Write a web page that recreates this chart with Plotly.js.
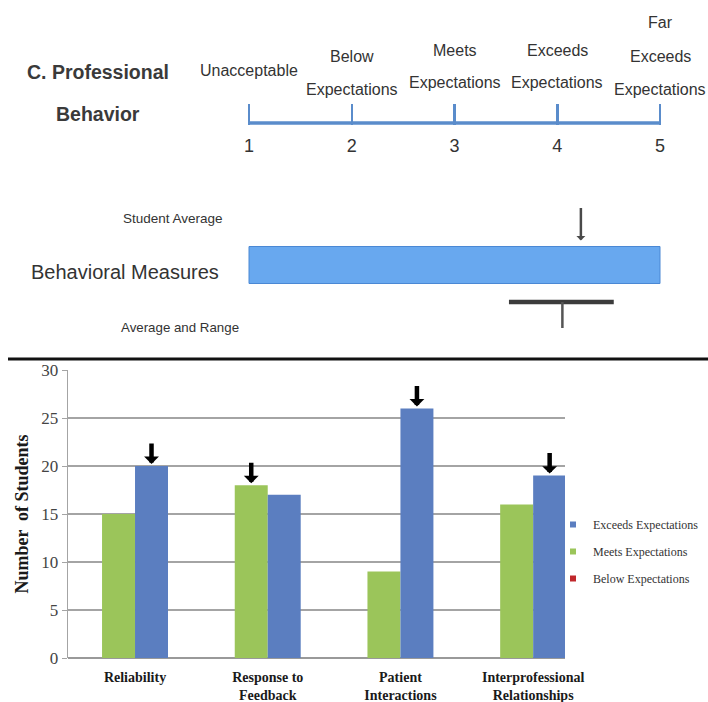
<!DOCTYPE html>
<html><head><meta charset="utf-8">
<script src="https://cdn.plot.ly/plotly-3.0.1.min.js"></script>
<style>
html,body{margin:0;padding:0;background:#fff;overflow:hidden;width:708px;height:702px}
#wrap{position:relative;width:708px;height:702px;overflow:hidden;contain:paint}
#chart{width:708px;height:702px;display:block}
</style>
</head><body><div id="wrap"><div id="chart"></div></div>
<script>
// ---- Top rubric scale ----
const scaleLevels = [1, 2, 3, 4, 5];
const scaleTickText = ["1", "2", "3", "4", "5"];
const scaleLabels = ["Unacceptable", "Below<br>Expectations", "Meets<br>Expectations", "Exceeds<br>Expectations", "Far<br>Exceeds<br>Expectations"];
const sectionTitle = "C. Professional<br>Behavior";
const measureName = "Behavioral Measures";
const studentAverage = 4.23;
const rangeLow = 3.53;
const rangeHigh = 4.55;
const rangeAverage = 4.05;

// ---- Bar chart ----
const categories = ["Reliability", "Response to<br>Feedback", "Patient<br>Interactions", "Interprofessional<br>Relationships"];
const meetsValues = [15, 18, 9, 16];
const exceedsValues = [20, 17, 26, 19];
const belowValues = [0, 0, 0, 0];
const averageRating = ["Exceeds", "Meets", "Exceeds", "Exceeds"];
const yTicks = [0, 5, 10, 15, 20, 25, 30];
const seriesNames = ["Exceeds Expectations", "Meets Expectations", "Below Expectations"];

const W = 708, H = 702;
const px = v => v / W;
const py = v => 1 - v / H;
const sans = "'Liberation Sans', Arial, sans-serif";
const serif = "'Liberation Serif', 'Times New Roman', serif";
const TXT = '#333333';
const GREEN = '#9bc55a', BLUE = '#5b7ec0', RED = '#c0282c';
const SCALEBLUE = '#5a8ccb';
const BARGAP = 0.503;
const halfBar = (1 - BARGAP) / 4;
const scaleMin = scaleLevels[0], scaleMax = scaleLevels[scaleLevels.length - 1];
// scale axis: level 1 at x=249px, level 5 at x=660px, padded by 0.1 level each side
const unitPx = (660 - 249) / (scaleMax - scaleMin);
const scaleDomain = [px(249 - 0.1 * unitPx), px(660 + 0.1 * unitPx)];
const scaleRange = [scaleMin - 0.1, scaleMax + 0.1];

const traces = [
  {type: 'bar', x: categories, y: meetsValues, name: seriesNames[1], marker: {color: GREEN}, showlegend: false, xaxis: 'x', yaxis: 'y', hoverinfo: 'skip'},
  {type: 'bar', x: categories, y: exceedsValues, name: seriesNames[0], marker: {color: BLUE}, showlegend: false, xaxis: 'x', yaxis: 'y', hoverinfo: 'skip'},
  // legend entries
  {type: 'scatter', mode: 'markers', x: [null], y: [null], name: seriesNames[0], legendgroup: 'a', marker: {symbol: 'square', size: 6, color: BLUE}, xaxis: 'x', yaxis: 'y'},
  {type: 'scatter', mode: 'markers', x: [null], y: [null], name: seriesNames[1], legendgroup: 'b', marker: {symbol: 'square', size: 6, color: GREEN}, xaxis: 'x', yaxis: 'y'},
  {type: 'scatter', mode: 'markers', x: [null], y: [null], name: seriesNames[2], legendgroup: 'c', marker: {symbol: 'square', size: 6, color: RED}, xaxis: 'x', yaxis: 'y'},
  // rubric scale line
  {type: 'scatter', mode: 'lines', x: [scaleMin, scaleMax], y: [0, 0], line: {color: SCALEBLUE, width: 3.5}, showlegend: false, xaxis: 'x2', yaxis: 'y2', hoverinfo: 'skip'},
  // behavioral measure bar
  {type: 'bar', orientation: 'h', base: [scaleMin], x: [scaleMax - scaleMin], y: [0], width: 0.74,
   marker: {color: '#68a8ef', line: {color: '#4a88d4', width: 1}}, showlegend: false, xaxis: 'x3', yaxis: 'y3', hoverinfo: 'skip'},
  // average and range
  {type: 'scatter', mode: 'lines', x: [rangeLow, rangeHigh], y: [-0.74, -0.74], line: {color: '#3c3c3c', width: 4.5}, showlegend: false, xaxis: 'x3', yaxis: 'y3', hoverinfo: 'skip'},
  {type: 'scatter', mode: 'lines', x: [rangeAverage, rangeAverage], y: [-0.74, -1.26], line: {color: '#555', width: 2.5}, showlegend: false, xaxis: 'x3', yaxis: 'y3', hoverinfo: 'skip'}
];

const annotations = [];
categories.forEach((c, i) => {
  const isEx = averageRating[i] === 'Exceeds';
  annotations.push({xref: 'x', yref: 'y', x: i + (isEx ? halfBar : -halfBar), y: isEx ? exceedsValues[i] : meetsValues[i],
    text: '', showarrow: true, arrowhead: 1, arrowwidth: 4.5, arrowsize: 0.55, arrowcolor: '#000', ax: 0, ay: -24, standoff: 2});
});
const lastLineY = [70, 89, 83, 83, 89];
const lineGap = 33;
scaleLabels.forEach((lab, i) => {
  const lines = lab.split('<br>');
  lines.forEach((ln, j) => {
    annotations.push({xref: 'x2', yref: 'paper', x: scaleLevels[i], y: py(lastLineY[i] - (lines.length - 1 - j) * lineGap),
      text: ln, showarrow: false, xanchor: 'center', yanchor: 'middle', font: {family: sans, size: 16, color: TXT}});
  });
});
sectionTitle.split('<br>').forEach((ln, j) => {
  annotations.push({xref: 'paper', yref: 'paper', x: px(98), y: py(72 + j * 42), text: ln, showarrow: false,
    xanchor: 'center', yanchor: 'middle', font: {family: sans, size: 19.5, weight: 'bold', color: '#3a3a3a'}});
});
annotations.push({xref: 'paper', yref: 'paper', x: px(225), y: py(218), text: 'Student Average', showarrow: false,
  xanchor: 'right', yanchor: 'middle', font: {family: sans, size: 13.5, color: TXT}});
annotations.push({xref: 'paper', yref: 'paper', x: px(221), y: py(272), text: measureName, showarrow: false,
  xanchor: 'right', yanchor: 'middle', font: {family: sans, size: 20, color: TXT}});
annotations.push({xref: 'paper', yref: 'paper', x: px(241), y: py(327), text: 'Average and Range', showarrow: false,
  xanchor: 'right', yanchor: 'middle', font: {family: sans, size: 13.3, color: TXT}});
annotations.push({xref: 'x3', yref: 'y3', x: studentAverage, y: 0.37, text: '', showarrow: true, arrowhead: 1,
  arrowwidth: 2.5, arrowsize: 0.6, arrowcolor: '#4a4a4a', ax: 0, ay: -40, standoff: 6});

const layout = {
  width: W, height: H,
  margin: {l: 0, r: 0, t: 0, b: 0},
  paper_bgcolor: '#fff', plot_bgcolor: 'rgba(0,0,0,0)',
  barmode: 'group', bargap: BARGAP, bargroupgap: 0,
  showlegend: true,
  legend: {x: px(553), y: py(510), xanchor: 'left', yanchor: 'top', traceorder: 'grouped', tracegroupgap: 8,
    font: {family: serif, size: 12, color: TXT}, bgcolor: 'rgba(0,0,0,0)', itemwidth: 30},
  xaxis: {domain: [px(68), px(565)], type: 'category', range: [-0.505, 3.24], anchor: 'y', showgrid: false, zeroline: false,
    showline: false, ticks: '', ticklabelstandoff: 9, tickfont: {family: serif, size: 14, weight: 'bold', color: '#1a1a1a'}, automargin: false},
  yaxis: {domain: [py(658), py(370)], range: [0, 30], anchor: 'x', tickvals: yTicks, showgrid: true, gridcolor: '#a4a4a4', gridwidth: 1.3,
    zeroline: true, zerolinecolor: '#999', zerolinewidth: 1.5, showline: true, linecolor: '#a4a4a4', linewidth: 1.3,
    ticks: 'outside', ticklen: 5, tickcolor: '#a4a4a4', tickfont: {family: serif, size: 17, color: '#444'}, automargin: false,
    title: {text: 'Number  of Students', standoff: 8, font: {family: serif, size: 18, weight: 'bold', color: '#1a1a1a'}}},
  xaxis2: {domain: scaleDomain, range: scaleRange, anchor: 'y2', tickvals: scaleLevels, ticktext: scaleTickText,
    ticks: 'inside', ticklen: 21, tickwidth: 2.5, tickcolor: SCALEBLUE, showline: false,
    showgrid: false, zeroline: false, ticklabelstandoff: 8, tickfont: {family: sans, size: 18, color: TXT}, automargin: false},
  yaxis2: {domain: [py(125), py(94)], range: [-0.2, 2.9], anchor: 'x2', visible: false},
  xaxis3: {domain: scaleDomain, range: scaleRange, anchor: 'y3', visible: false},
  yaxis3: {domain: [py(340), py(190)], range: [-1.5, 1.5], anchor: 'x3', visible: false},
  shapes: [{type: 'line', xref: 'paper', yref: 'paper', x0: px(8), x1: 1, y0: py(359), y1: py(359), line: {color: '#111', width: 3}}],
  annotations: annotations
};

Plotly.newPlot('chart', traces, layout, {staticPlot: true, displayModeBar: false});
</script>
</body></html>
